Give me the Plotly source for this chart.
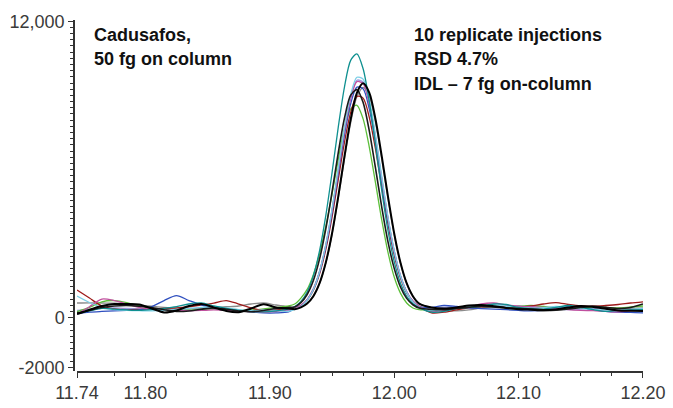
import plotly.graph_objects as go

# Retention time grid (min): coarse on the baseline, finer across the peak
rt_left = [11.745, 11.755, 11.765, 11.775, 11.785, 11.795, 11.805, 11.815, 11.825,
           11.835, 11.845, 11.855, 11.865, 11.875, 11.885, 11.895, 11.905, 11.915]
rt_peak = [11.920, 11.925, 11.930, 11.935, 11.940, 11.945, 11.950, 11.955, 11.960,
           11.965, 11.970, 11.975, 11.980, 11.985, 11.990, 11.995, 12.000, 12.005,
           12.010, 12.015, 12.020]
rt_right = [12.03, 12.04, 12.05, 12.06, 12.07, 12.08, 12.09, 12.10, 12.11,
            12.12, 12.13, 12.14, 12.15, 12.16, 12.17, 12.18, 12.19, 12.20]
retention_time = rt_left + rt_peak + rt_right

# Ion abundance for the 10 replicate injections (left baseline | peak | right baseline)
inj_teal = ([180, 280, 380, 350, 320, 300, 330, 380, 450, 560, 600, 480, 380, 300, 250, 240, 280, 360]
            + [460, 665, 1049, 1704, 2723, 4138, 5864, 7705, 9338, 10419, 10679, 10076, 8734, 6977,
               5146, 3524, 2276, 1402, 868, 567, 415]
            + [230, 260, 380, 420, 470, 560, 540, 420, 380, 350, 420, 500, 420, 330, 260, 300, 320, 330])
inj_cyan = ([880, 620, 420, 330, 300, 290, 280, 300, 340, 380, 420, 450, 400, 330, 290, 320, 300, 260]
            + [339, 459, 702, 1144, 1874, 2953, 4385, 6047, 7699, 9026, 9733, 9657, 8797, 7384,
               5703, 4070, 2714, 1702, 1035, 640, 428]
            + [300, 340, 400, 450, 480, 520, 470, 420, 390, 410, 460, 430, 380, 340, 320, 300, 340, 380])
inj_magenta = ([150, 450, 760, 700, 560, 420, 350, 320, 300, 290, 300, 320, 300, 270, 250, 230, 260, 320]
               + [387, 504, 741, 1172, 1884, 2938, 4336, 5957, 7570, 8865, 9555, 9480, 8641, 7262,
                  5622, 4028, 2705, 1717, 1066, 680, 473]
               + [260, 300, 380, 430, 560, 600, 520, 470, 450, 420, 390, 330, 300, 290, 260, 240, 280, 340])
inj_lavender = ([300, 340, 380, 400, 380, 360, 340, 320, 330, 360, 380, 360, 330, 300, 290, 300, 320, 300]
                + [367, 486, 725, 1160, 1878, 2940, 4350, 5986, 7612, 8919, 9614, 9539, 8693, 7302,
                   5647, 4040, 2705, 1709, 1053, 664, 455]
                + [380, 420, 450, 420, 400, 430, 460, 480, 440, 400, 360, 330, 350, 380, 400, 380, 360, 340])
inj_gray = ([600, 610, 600, 590, 560, 520, 470, 420, 380, 360, 380, 420, 450, 480, 560, 600, 520, 450]
            + [368, 439, 591, 885, 1400, 2219, 3371, 4829, 6422, 7889, 8942, 9320, 8942, 7889,
               6422, 4829, 3371, 2219, 1400, 885, 591]
            + [400, 300, 280, 320, 400, 460, 470, 420, 320, 280, 300, 380, 440, 480, 420, 360, 380, 400])
inj_green = ([250, 420, 650, 700, 620, 480, 380, 330, 300, 310, 340, 360, 340, 300, 310, 360, 420, 480]
             + [560, 800, 1150, 1750, 2600, 3700, 5000, 6400, 7650, 8450, 8600, 8050, 6900, 5450,
                3950, 2650, 1650, 1000, 600, 400, 330]
             + [330, 360, 400, 440, 470, 450, 430, 470, 500, 460, 400, 380, 400, 450, 420, 400, 440, 480])
inj_red = ([1130, 800, 480, 360, 330, 340, 360, 380, 400, 450, 520, 600, 700, 560, 400, 300, 320, 360]
           + [381, 491, 712, 1116, 1782, 2768, 4076, 5593, 7102, 8314, 8959, 8889, 8104, 6814,
              5279, 3788, 2550, 1625, 1017, 656, 462]
           + [200, 230, 320, 400, 450, 470, 450, 440, 480, 560, 620, 540, 480, 470, 500, 540, 600, 650])
inj_blue = ([160, 230, 260, 280, 300, 320, 450, 700, 900, 700, 520, 420, 350, 300, 240, 200, 200, 240]
            + [385, 499, 730, 1152, 1847, 2875, 4240, 5824, 7398, 8663, 9336, 9264, 8445, 7098,
               5496, 3940, 2648, 1683, 1048, 671, 469]
            + [420, 500, 460, 400, 370, 350, 330, 300, 280, 300, 380, 460, 420, 330, 260, 230, 220, 200])
inj_black_a = ([200, 300, 420, 480, 500, 470, 420, 330, 260, 280, 350, 400, 350, 280, 250, 300, 380, 420]
               + [441, 614, 944, 1508, 2385, 3603, 5088, 6672, 8078, 9008, 9232, 8713, 7558, 6046,
                  4471, 3075, 2001, 1249, 789, 530, 399]
               + [340, 330, 380, 430, 470, 440, 400, 380, 360, 330, 320, 360, 420, 470, 430, 380, 420, 560])
inj_black_b = ([150, 330, 480, 560, 560, 540, 380, 220, 300, 480, 560, 420, 280, 230, 380, 550, 420, 380]
               + [349, 421, 577, 877, 1403, 2239, 3415, 4904, 6531, 8029, 9104, 9490, 9104, 8029,
                  6531, 4904, 3415, 2239, 1403, 877, 577]
               + [420, 380, 420, 500, 520, 470, 400, 350, 330, 310, 340, 420, 480, 440, 370, 300, 290, 280])

traces = [
    (inj_lavender, "#9c9ce0", 1.3),
    (inj_gray, "#8c8c8c", 1.3),
    (inj_green, "#5cbf3a", 1.3),
    (inj_red, "#9e1b1b", 1.3),
    (inj_blue, "#2f4fbf", 1.3),
    (inj_magenta, "#c0509e", 1.3),
    (inj_cyan, "#7ccfe6", 1.3),
    (inj_teal, "#0f9090", 1.3),
    (inj_black_a, "#1a1a1a", 1.6),
    (inj_black_b, "#000000", 2.0),
]

x_major = [11.745, 11.80, 11.90, 12.00, 12.10, 12.20]
x_major_text = ["11.74", "11.80", "11.90", "12.00", "12.10", "12.20"]
x_minor = [11.775, 11.825, 11.85, 11.875, 11.925, 11.95, 11.975, 12.025, 12.05,
           12.075, 12.125, 12.15, 12.175]
y_major = [-2000, 0, 12000]
y_major_text = ["-2000", "0", "12,000"]

fig = go.Figure()
for values, color, width in traces:
    fig.add_trace(go.Scatter(
        x=retention_time, y=values, mode="lines",
        line=dict(color=color, width=width, shape="spline", smoothing=0.8),
        showlegend=False, hoverinfo="skip",
    ))

tick_font = dict(family="Liberation Sans, Arial, sans-serif", size=18, color="#3a3a3a")
label_font = dict(family="Liberation Sans, Arial, sans-serif", size=18, color="#111111")

fig.update_layout(
    width=673, height=408,
    margin=dict(l=74, r=30, t=20, b=37),
    paper_bgcolor="white", plot_bgcolor="white",
    xaxis=dict(
        domain=[0.0053, 1], range=[11.745, 12.20], automargin=False,
        showgrid=False, zeroline=False,
        showline=True, linecolor="#333333", linewidth=1.5,
        ticks="outside", ticklen=5, tickwidth=1.3, tickcolor="#333333",
        tickvals=x_major, ticktext=x_major_text, tickfont=tick_font,
        minor=dict(tickvals=x_minor, ticks="outside", ticklen=3, tickwidth=1.2,
                   tickcolor="#333333", showgrid=False),
    ),
    yaxis=dict(
        anchor="free", position=0, range=[-2150, 12050], automargin=False,
        showgrid=False, zeroline=False,
        showline=True, linecolor="#333333", linewidth=1.5,
        ticks="outside", ticklen=5, tickwidth=1.3, tickcolor="#333333",
        tickvals=y_major, ticktext=y_major_text, tickfont=tick_font,
        minor=dict(dtick=250, tick0=0, ticks="outside", ticklen=3, tickwidth=1.2,
                   tickcolor="#333333", showgrid=False),
    ),
)

left_lines = ["<b>Cadusafos,</b>", "<b>50 fg on column</b>"]
right_lines = ["<b>10 replicate injections</b>", "<b>RSD 4.7%</b>", "<b>IDL – 7 fg on-column</b>"]
line_step = 24.5 / 351
for i, txt in enumerate(left_lines):
    fig.add_annotation(xref="paper", yref="paper", x=0.0316, y=1 - (35 - 20) / 351 - i * line_step,
                       xanchor="left", yanchor="middle", text=txt, showarrow=False, font=label_font)
for i, txt in enumerate(right_lines):
    fig.add_annotation(xref="paper", yref="paper", x=0.594, y=1 - (35 - 20) / 351 - i * line_step,
                       xanchor="left", yanchor="middle", text=txt, showarrow=False, font=label_font)

fig.write_html("out.html")
